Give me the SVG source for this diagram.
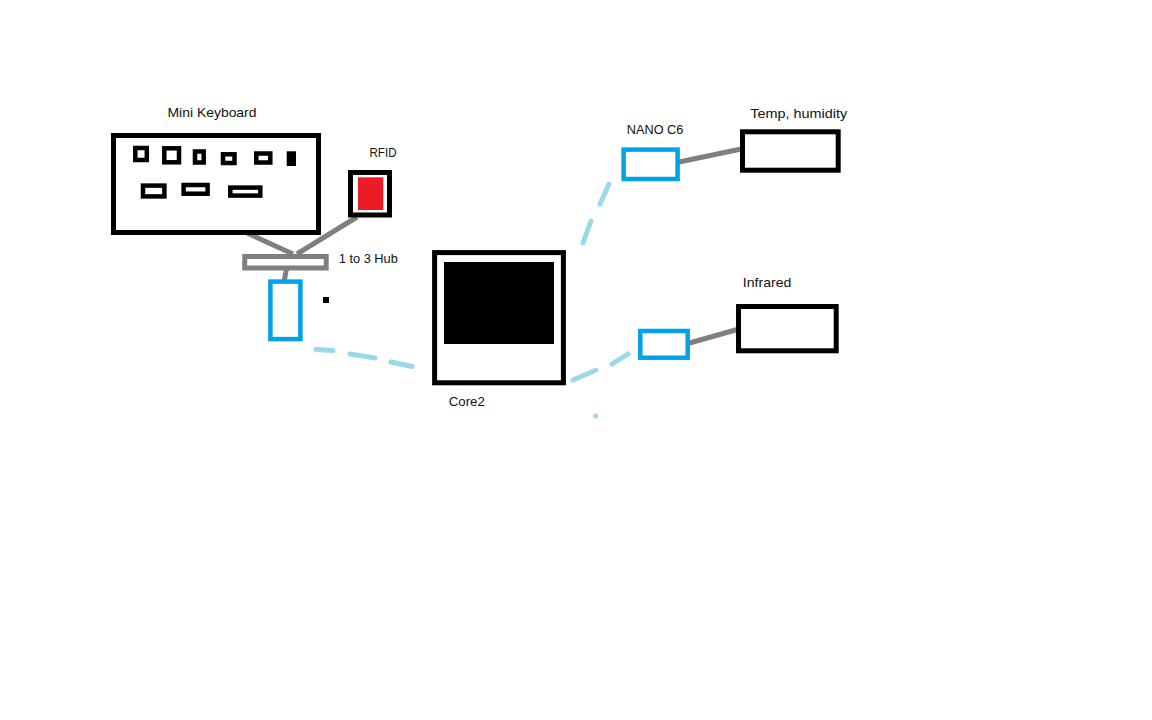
<svg xmlns="http://www.w3.org/2000/svg" width="1152" height="720" viewBox="0 0 1152 720">
<style>
.lbl{font-family:"Liberation Sans","DejaVu Sans",sans-serif;font-size:13.5px;fill:#111}
.box{fill:#fff;stroke:#000;stroke-width:5}
.key{fill:#fff;stroke:#000;stroke-width:4.5}
.blue{fill:#fff;stroke:#00a2e8;stroke-width:4.5}
.wire{stroke:#7f7f7f;stroke-width:5;fill:none}
.wl{stroke:#99d9ea;stroke-width:5;stroke-linecap:round;fill:none}
</style>
<rect width="1152" height="720" fill="#fff"/>
<g id="connectors">
<line class="wire" x1="247" y1="233" x2="293" y2="254"/>
<line class="wire" x1="357" y1="217" x2="297" y2="254"/>
<line class="wire" x1="287" y1="266" x2="284" y2="282"/>
<line class="wire" x1="679" y1="162" x2="746" y2="148"/>
<line class="wire" x1="686" y1="344" x2="739" y2="329"/>
<line class="wl" x1="316" y1="349.5" x2="333" y2="350.5"/>
<line class="wl" x1="350" y1="354" x2="375" y2="358"/>
<line class="wl" x1="391" y1="362" x2="412" y2="366.5"/>
<line class="wl" x1="609" y1="184" x2="600" y2="204"/>
<line class="wl" x1="591" y1="221" x2="583" y2="243"/>
<line class="wl" x1="573" y1="380" x2="596" y2="370"/>
<line class="wl" x1="612" y1="364" x2="628" y2="354"/>
<circle cx="595.5" cy="416" r="2.5" fill="#99d9ea"/>
</g>
<g id="keyboard">
<rect class="box" x="113.5" y="135.5" width="205" height="97"/>
<rect class="key" x="135.3" y="148" width="11.5" height="12"/>
<rect class="key" x="164.3" y="148.3" width="14.7" height="14"/>
<rect class="key" x="195" y="151.5" width="8.7" height="11"/>
<rect class="key" x="223" y="154.3" width="11.5" height="8.7"/>
<rect class="key" x="256.3" y="153.5" width="14" height="9"/>
<rect x="286.7" y="151.3" width="9.3" height="14.7" fill="#000"/>
<rect class="key" x="143" y="185.6" width="21.4" height="10.8"/>
<rect class="key" x="183.6" y="185" width="24" height="8.7"/>
<rect class="key" x="230.3" y="187.6" width="30" height="8"/>
<text class="lbl" x="167.5" y="117" textLength="89" lengthAdjust="spacingAndGlyphs">Mini Keyboard</text>
</g>
<g id="rfid">
<rect class="box" x="350.5" y="172.5" width="39" height="42.5"/>
<rect x="358" y="177.3" width="25.3" height="32.7" fill="#ed1c24"/>
<text class="lbl" x="369.5" y="157" textLength="27" lengthAdjust="spacingAndGlyphs">RFID</text>
</g>
<g id="hub">
<rect x="244.7" y="256.5" width="81.5" height="11.5" fill="#fff" stroke="#7f7f7f" stroke-width="5"/>
<text class="lbl" x="338.8" y="262.5" textLength="59" lengthAdjust="spacingAndGlyphs">1 to 3 Hub</text>
</g>
<g id="module">
<rect class="blue" x="270.4" y="281.6" width="30" height="57.5"/>
</g>
<rect x="323" y="297" width="6" height="6" fill="#000"/>
<g id="core2">
<rect class="box" x="434.6" y="252.6" width="128.8" height="130.2"/>
<rect x="444" y="262" width="110" height="82" fill="#000"/>
<text class="lbl" x="448.8" y="406" textLength="36" lengthAdjust="spacingAndGlyphs">Core2</text>
</g>
<g id="nano-c6">
<rect class="blue" x="623.6" y="149.6" width="54" height="29.4"/>
<text class="lbl" x="626.8" y="134" textLength="56.5" lengthAdjust="spacingAndGlyphs">NANO C6</text>
</g>
<g id="temp-humidity">
<rect class="box" x="742.5" y="131.8" width="95.7" height="38.4"/>
<text class="lbl" x="750.2" y="118" textLength="97" lengthAdjust="spacingAndGlyphs">Temp, humidity</text>
</g>
<g id="ir-module">
<rect class="blue" x="640.3" y="331" width="47.4" height="26.7"/>
</g>
<g id="infrared">
<rect class="box" x="738.5" y="306.5" width="97.7" height="44.3"/>
<text class="lbl" x="742.8" y="287" textLength="48.5" lengthAdjust="spacingAndGlyphs">Infrared</text>
</g>
</svg>
